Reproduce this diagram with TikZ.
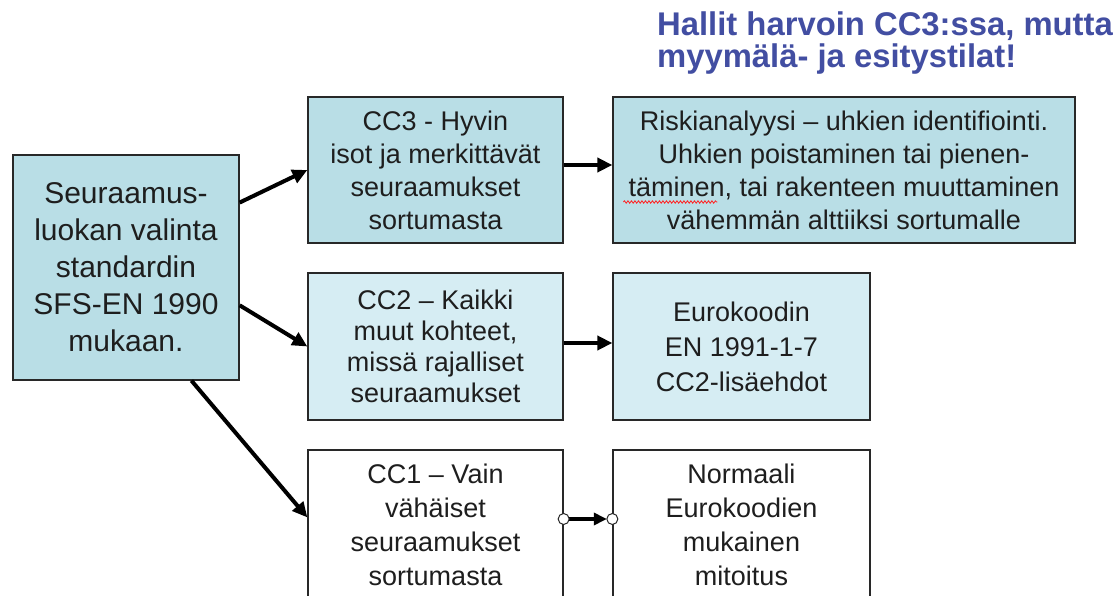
\documentclass[tikz,border=0pt]{standalone}
\usepackage{fontspec}
\setmainfont{Liberation Sans}
\usetikzlibrary{arrows.meta,calc,decorations.pathmorphing}
\definecolor{boxA}{RGB}{185,222,230}
\definecolor{boxB}{RGB}{214,237,243}
\definecolor{titleblue}{RGB}{66,78,162}
\definecolor{txt}{RGB}{30,30,30}
\definecolor{edge}{RGB}{40,40,40}
\begin{document}
\begin{tikzpicture}[x=1pt,y=-1pt,
  box/.style={draw=edge, line width=1.3pt, inner sep=0pt, align=center, text=txt,
              font=\fontsize{27}{33}\selectfont},
  arr/.style={line width=4pt, -{Triangle[length=15pt,width=14pt]}},
  dot/.style={draw=edge, fill=white, line width=1pt}]
\useasboundingbox (0,0) rectangle (1120,596);
\fill[white] (0,0) rectangle (1120,596);

\node[anchor=north west, inner sep=0pt, align=left, text=titleblue,
      font=\fontsize{32.8}{31.5}\selectfont\bfseries] (T) at (657,12)
      {Hallit harvoin CC3:ssa, mutta\\myymälä- ja esitystilat!};

\node[box, fill=boxA, minimum width=226pt, minimum height=225pt,
      font=\fontsize{30}{37}\selectfont] (L) at (126,267.5)
      {Seuraamus-\\luokan valinta\\standardin\\SFS-EN 1990\\mukaan.};

\node[box, fill=boxA, minimum width=255pt, minimum height=146pt] (C3) at (435.5,170)
      {CC3 - Hyvin\\isot ja merkittävät\\seuraamukset\\sortumasta};
\node[box, fill=boxA, minimum width=462pt, minimum height=146pt] (R) at (844,170)
      {Riskianalyysi – uhkien identifiointi.\\Uhkien poistaminen tai pienen-\\täminen, tai rakenteen muuttaminen\\vähemmän alttiiksi sortumalle};

\node[box, fill=boxB, minimum width=255pt, minimum height=147pt,
      font=\fontsize{27}{31}\selectfont] (C2) at (435.5,346.5)
      {CC2 – Kaikki\\muut kohteet,\\missä rajalliset\\seuraamukset};
\node[box, fill=boxB, minimum width=257pt, minimum height=147pt,
      font=\fontsize{27}{35}\selectfont] (E) at (741.5,346.5)
      {Eurokoodin\\EN 1991-1-7\\CC2-lisäehdot};

\node[box, fill=white, minimum width=255pt, minimum height=150pt,
      font=\fontsize{27}{34}\selectfont] (C1) at (435.5,525)
      {CC1 – Vain\\vähäiset\\seuraamukset\\sortumasta};
\node[box, fill=white, minimum width=257pt, minimum height=150pt,
      font=\fontsize{27}{34}\selectfont] (N) at (741.5,525)
      {Normaali\\Eurokoodien\\mukainen\\mitoitus};

% spell-check squiggle
\coordinate (s1) at ($(R.west)+(11,32)$);
\coordinate (s2) at ($(R.west)+(105,32)$);
\draw[red!85, line width=0.8pt, decorate,
      decoration={snake, amplitude=1.2pt, segment length=3.5pt}] (s1) -- (s2);

% connectors
\draw[arr] ($(L.south east)!0.787!(L.north east)$) -- (C3.west);
\draw[arr] ($(L.south east)!0.333!(L.north east)$) -- (C2.west);
\draw[arr] ($(L.south west)!0.788!(L.south east)$) -- ($(C1.north west)!0.45!(C1.south west)$);
\draw[arr] ($(C3.east)+(0,-5)$) -- ($(R.west)+(0,-5)$);
\draw[arr] ($(C2.east)+(0,-3.5)$) -- ($(E.west)+(0,-3.5)$);

\coordinate (p1) at ($(C1.east)+(0,-6)$);
\coordinate (p2) at ($(N.west)+(0,-6)$);
\draw[line width=3.5pt, -{Triangle[length=13pt,width=12pt]},
      shorten <=5pt, shorten >=5.5pt] (p1) -- (p2);
\draw[dot] (p1) circle (5.5pt);
\draw[dot] (p2) circle (5.5pt);
\end{tikzpicture}
\end{document}
